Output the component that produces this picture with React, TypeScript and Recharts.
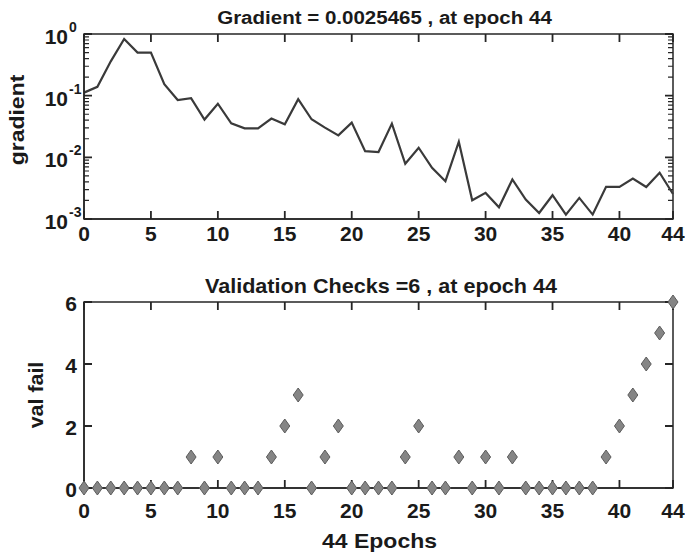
import React from 'react';
import { ComposedChart, Line, XAxis, YAxis, ReferenceArea } from 'recharts';

const epochs = [0, 1, 2, 3, 4, 5, 6, 7, 8, 9, 10, 11, 12, 13, 14, 15, 16, 17, 18, 19, 20, 21, 22, 23, 24, 25, 26, 27, 28, 29, 30, 31, 32, 33, 34, 35, 36, 37, 38, 39, 40, 41, 42, 43, 44];
const gradient = [0.112, 0.139, 0.36, 0.83, 0.5, 0.5, 0.153, 0.085, 0.091, 0.041, 0.074, 0.0356, 0.0295, 0.0295, 0.0425, 0.0343, 0.0875, 0.0414, 0.0303, 0.0227, 0.0366, 0.0126, 0.0122, 0.0352, 0.00786, 0.0143, 0.00677, 0.0041, 0.0179, 0.00201, 0.00265, 0.00155, 0.00437, 0.00207, 0.00125, 0.00243, 0.00118, 0.0022, 0.00118, 0.00332, 0.00332, 0.00454, 0.0033, 0.00562, 0.0025465];
const valFail = [0, 0, 0, 0, 0, 0, 0, 0, 1, 0, 1, 0, 0, 0, 1, 2, 3, 0, 1, 2, 0, 0, 0, 0, 1, 2, 0, 0, 1, 0, 1, 0, 1, 0, 0, 0, 0, 0, 0, 1, 2, 3, 4, 5, 6];

const xTicks = [0, 5, 10, 15, 20, 25, 30, 35, 40, 44];
const gradMajorTicks = [0.001, 0.01, 0.1, 1];
const gradMajorLabels = ['-3', '-2', '-1', '0'];
const gradMinorTicks = [0.002, 0.003, 0.004, 0.005, 0.006, 0.007, 0.008, 0.009, 0.02, 0.03, 0.04, 0.05, 0.06, 0.07, 0.08, 0.09, 0.2, 0.3, 0.4, 0.5, 0.6, 0.7, 0.8, 0.9];
const valTicks = [0, 2, 4, 6];

const gradTitle = 'Gradient = 0.0025465 , at epoch 44';
const valTitle = 'Validation Checks =6 , at epoch 44';
const gradYLabel = 'gradient';
const valYLabel = 'val fail';
const xLabel = '44 Epochs';

const gradData = epochs.map((e, i) => ({ epoch: e, g: gradient[i] }));
const valData = epochs.map((e, i) => ({ epoch: e, v: valFail[i] }));

const W = 685;
const H = 559;
const TOP_H = 258;
const BOT_Y = 258;
const BOT_H = H - BOT_Y;
const FONT = '"Liberation Sans", Arial, Helvetica, sans-serif';
const AX = '#262626';
const TXT = '#1a1a1a';

// Inside tick marks drawn by zero-width / zero-height reference areas
const XStub = (p: any) => {
  const top = p.y;
  const bot = p.y + p.height;
  return <path d={`M${p.x},${top} L${p.x},${top + 8} M${p.x},${bot} L${p.x},${bot - 8}`} stroke={AX} strokeWidth={1.8} fill="none" />;
};
const YMajorStub = (p: any) => {
  const l = p.x;
  const r = p.x + p.width;
  return <path d={`M${l},${p.y} L${l + 8},${p.y} M${r},${p.y} L${r - 8},${p.y}`} stroke={AX} strokeWidth={1.8} fill="none" />;
};
const YMinorStub = (p: any) => {
  const l = p.x;
  const r = p.x + p.width;
  return <path d={`M${l},${p.y} L${l + 5},${p.y} M${r},${p.y} L${r - 5},${p.y}`} stroke={AX} strokeWidth={1.2} fill="none" />;
};
const Frame = (p: any) => (
  <path d={`M${p.x},${p.y} h${p.width} v${p.height} h${-p.width} Z`} stroke={AX} strokeWidth={1.5} fill="none" />
);

const makeBottomTick = (gap: number) => (p: any) => (
  <text x={p.x} y={p.y + gap} textAnchor="middle" fontFamily={FONT} fontWeight="bold" fontSize={21} fill={TXT}>
    {p.payload.value}
  </text>
);

const LeftLogTick = (p: any) => {
  const mi = gradMajorTicks.indexOf(p.payload.value);
  return (
    <g>
      <text x={p.x - 16} y={p.y + 10} textAnchor="end" fontFamily={FONT} fontWeight="bold" fontSize={21} fill={TXT}>10</text>
      <text x={p.x - 15} y={p.y - 2} textAnchor="start" fontFamily={FONT} fontWeight="bold" fontSize={14} fill={TXT}>{gradMajorLabels[mi]}</text>
    </g>
  );
};

const LeftValTick = (p: any) => (
  <text x={p.x - 7} y={p.y + 9} textAnchor="end" fontFamily={FONT} fontWeight="bold" fontSize={21} fill={TXT}>
    {p.payload.value}
  </text>
);

const Diamond = (p: any) => {
  const { cx, cy } = p;
  if (cx == null || cy == null) return null;
  return (
    <path
      key={`d-${p.index}`}
      d={`M${cx},${cy - 7} L${cx + 5},${cy} L${cx},${cy + 7} L${cx - 5},${cy} Z`}
      fill="#858585"
      stroke="#5c5c5c"
      strokeWidth={1}
    />
  );
};

export default function App() {
  return (
    <div style={{ position: 'absolute', left: 0, top: 0, width: W, height: H, background: '#fff' }}>
      <div style={{ position: 'absolute', left: 0, top: 0, width: W, height: TOP_H }}>
        <ComposedChart width={W} height={TOP_H} data={gradData} margin={{ top: 34, right: 12, bottom: 9, left: 14 }}>
          <XAxis xAxisId="b" dataKey="epoch" type="number" domain={[0, 44]} ticks={xTicks} interval={0} orientation="bottom" height={30} tickSize={0} tickMargin={0} tickLine={false} axisLine={{ stroke: AX, strokeWidth: 1.5 }} tick={makeBottomTick(22)} />
          <YAxis yAxisId="l" type="number" scale="log" domain={[0.001, 1]} ticks={gradMajorTicks} interval={0} width={70} tickSize={0} tickMargin={0} tickLine={false} axisLine={{ stroke: AX, strokeWidth: 1.5 }} tick={LeftLogTick} allowDataOverflow />
          {xTicks.map((t) => (
            <ReferenceArea key={`gx${t}`} xAxisId="b" yAxisId="l" x1={t} x2={t} y1={0.001} y2={1} ifOverflow="visible" shape={XStub} />
          ))}
          {gradMajorTicks.map((t) => (
            <ReferenceArea key={`gy${t}`} xAxisId="b" yAxisId="l" x1={0} x2={44} y1={t} y2={t} ifOverflow="visible" shape={YMajorStub} />
          ))}
          {gradMinorTicks.map((t) => (
            <ReferenceArea key={`gm${t}`} xAxisId="b" yAxisId="l" x1={0} x2={44} y1={t} y2={t} ifOverflow="visible" shape={YMinorStub} />
          ))}
          <ReferenceArea xAxisId="b" yAxisId="l" x1={0} x2={44} y1={0.001} y2={1} ifOverflow="visible" shape={Frame} />
          <Line xAxisId="b" yAxisId="l" type="linear" dataKey="g" stroke="#3a3a3a" strokeWidth={2.2} dot={false} activeDot={false} isAnimationActive={false} />
        </ComposedChart>
      </div>
      <div style={{ position: 'absolute', left: 0, top: BOT_Y, width: W, height: BOT_H }}>
        <ComposedChart width={W} height={BOT_H} data={valData} margin={{ top: 44, right: 12, bottom: 41, left: 14 }}>
          <XAxis xAxisId="b" dataKey="epoch" type="number" domain={[0, 44]} ticks={xTicks} interval={0} orientation="bottom" height={30} tickSize={0} tickMargin={0} tickLine={false} axisLine={{ stroke: AX, strokeWidth: 1.5 }} tick={makeBottomTick(30)} />
          <YAxis yAxisId="l" type="number" domain={[0, 6]} ticks={valTicks} interval={0} width={70} tickSize={0} tickMargin={0} tickLine={false} axisLine={{ stroke: AX, strokeWidth: 1.5 }} tick={LeftValTick} />
          {xTicks.map((t) => (
            <ReferenceArea key={`vx${t}`} xAxisId="b" yAxisId="l" x1={t} x2={t} y1={0} y2={6} ifOverflow="visible" shape={XStub} />
          ))}
          {valTicks.map((t) => (
            <ReferenceArea key={`vy${t}`} xAxisId="b" yAxisId="l" x1={0} x2={44} y1={t} y2={t} ifOverflow="visible" shape={YMajorStub} />
          ))}
          <ReferenceArea xAxisId="b" yAxisId="l" x1={0} x2={44} y1={0} y2={6} ifOverflow="visible" shape={Frame} />
          <Line xAxisId="b" yAxisId="l" type="linear" dataKey="v" stroke="none" dot={Diamond} activeDot={false} isAnimationActive={false} />
        </ComposedChart>
      </div>
      <svg width={W} height={H} style={{ position: 'absolute', left: 0, top: 0, pointerEvents: 'none' }}>
        <g fontFamily={FONT} fontWeight="bold" fill={TXT}>
          <text transform="translate(384.5,23.5) scale(1.08,1)" textAnchor="middle" fontSize={19}>{gradTitle}</text>
          <text transform="translate(381,293) scale(1.08,1)" textAnchor="middle" fontSize={20}>{valTitle}</text>
          <text transform="translate(379.5,548) scale(1.15,1)" textAnchor="middle" fontSize={20}>{xLabel}</text>
          <text transform="translate(24,120) rotate(-90) scale(1.15,1)" textAnchor="middle" fontSize={20}>{gradYLabel}</text>
          <text transform="translate(43,395) rotate(-90) scale(1.07,1)" textAnchor="middle" fontSize={20}>{valYLabel}</text>
        </g>
      </svg>
    </div>
  );
}
